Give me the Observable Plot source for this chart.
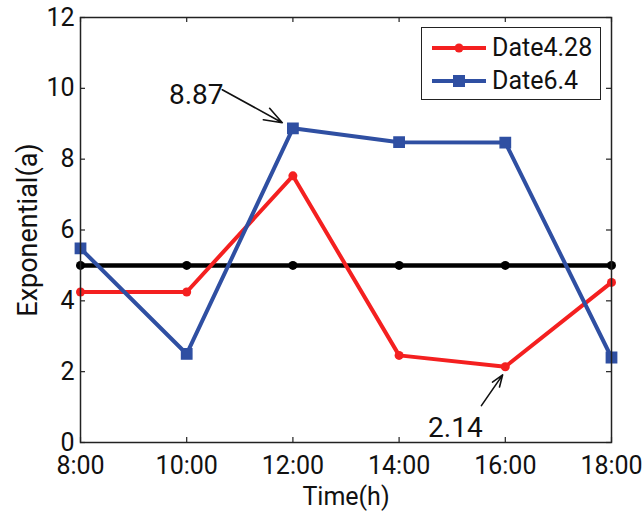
<!DOCTYPE html>
<html>
<head>
<meta charset="utf-8">
<script src="https://cdn.jsdelivr.net/npm/d3@7"></script>
<script src="https://cdn.jsdelivr.net/npm/@observablehq/plot@0.6"></script>
<style>
  html, body { margin: 0; padding: 0; background: #fff; }
  #wrap { position: relative; width: 642px; height: 511px; font-family: Roboto, "Liberation Sans", sans-serif; }
  #legend { position: absolute; left: 421px; top: 27px; width: 180px; height: 73px; border: 1.5px solid #222; background: #fff; box-sizing: border-box; }
  .row { position: absolute; left: 0; height: 30px; display: flex; align-items: center; }
  .row span { font-size: 25px; color: #111; margin-left: 6px; line-height: 30px; }
</style>
</head>
<body>
<div id="wrap"></div>
<script>
// ---- data ----
const hours = [8, 10, 12, 14, 16, 18];
const date428 = [4.25, 4.25, 7.53, 2.46, 2.14, 4.52];
const date64 = [5.48, 2.50, 8.87, 8.48, 8.47, 2.40];
const threshold = [5, 5, 5, 5, 5, 5];
const seriesNames = ["Date4.28", "Date6.4"];
const yTicks = [0, 2, 4, 6, 8, 10, 12];
const xTicks = [8, 10, 12, 14, 16, 18];
const annotText = ["8.87", "2.14"];
const annotTextX = [10.18, 15.06];
const annotTextY = [9.82, 0.42];
const arrowFromX = [10.67, 15.55];
const arrowFromY = [9.96, 1.04];
const arrowToX = [11.80, 15.95];
const arrowToY = [9.03, 1.91];

const RED = "#f42020";
const BLUE = "#2f4fa2";

const red = hours.map((h, i) => ({x: h, y: date428[i]}));
const blue = hours.map((h, i) => ({x: h, y: date64[i]}));
const black = hours.map((h, i) => ({x: h, y: threshold[i]}));
const annots = annotText.map((t, i) => ({t, tx: annotTextX[i], ty: annotTextY[i], x1: arrowFromX[i], y1: arrowFromY[i], x2: arrowToX[i], y2: arrowToY[i]}));

const W = 642, H = 511, mT = 17, mB = 69, mL = 80, mR = 31;
const frameH = H - mT - mB, frameW = W - mL - mR;

const chart = Plot.plot({
  width: W, height: H,
  marginTop: mT, marginBottom: mB, marginLeft: mL, marginRight: mR,
  style: {fontFamily: "Roboto, 'Liberation Sans', sans-serif", background: "#fff", color: "#111"},
  x: {domain: [8, 18]},
  y: {domain: [0, 12]},
  marks: [
    // inward ticks on all four sides
    Plot.tickX(xTicks, {x: d => d, insetTop: frameH - 5, stroke: "#222", strokeWidth: 1.2}),
    Plot.tickX(xTicks, {x: d => d, insetBottom: frameH - 5, stroke: "#222", strokeWidth: 1.2}),
    Plot.tickY(yTicks, {y: d => d, insetRight: frameW - 5, stroke: "#222", strokeWidth: 1.2}),
    Plot.tickY(yTicks, {y: d => d, insetLeft: frameW - 5, stroke: "#222", strokeWidth: 1.2}),
    Plot.axisX({ticks: xTicks, tickSize: 0, tickPadding: 14, tickFormat: d => `${d}:00`, fontSize: 25, label: null}),
    Plot.axisY({ticks: yTicks, tickSize: 0, tickPadding: 6, fontSize: 25, label: null}),
    Plot.text(["Time(h)"], {frameAnchor: "bottom", dy: 54, fontSize: 25, lineAnchor: "middle", textAnchor: "middle", fill: "#111"}),
    Plot.text(["Exponential(a)"], {frameAnchor: "left", dx: -52, rotate: -90, fontSize: 27, lineAnchor: "middle", textAnchor: "middle", fill: "#111"}),
    // series
    Plot.line(black, {x: "x", y: "y", stroke: "#000", strokeWidth: 4.5}),
    Plot.dot(black, {x: "x", y: "y", r: 4.5, fill: "#000"}),
    Plot.line(red, {x: "x", y: "y", stroke: RED, strokeWidth: 4}),
    Plot.dot(red, {x: "x", y: "y", r: 4.5, fill: RED}),
    Plot.line(blue, {x: "x", y: "y", stroke: BLUE, strokeWidth: 4}),
    Plot.dot(blue, {x: "x", y: "y", r: 5.8, symbol: "square", fill: BLUE, stroke: BLUE, strokeWidth: 1.5}),
    // annotations
    Plot.arrow(annots, {x1: "x1", y1: "y1", x2: "x2", y2: "y2", stroke: "#111", strokeWidth: 1.6, headLength: 18, headAngle: 40, bend: 0}),
    Plot.text(annots, {x: "tx", y: "ty", text: "t", fontSize: 28, lineAnchor: "middle", fill: "#111"}),
    Plot.frame({stroke: "#222", strokeWidth: 1.5})
  ]
});

const wrap = document.getElementById("wrap");
wrap.appendChild(chart);

// legend
const legend = document.createElement("div");
legend.id = "legend";
const colors = [RED, BLUE];
seriesNames.forEach((name, i) => {
  const row = document.createElement("div");
  row.className = "row";
  row.style.top = (i === 0 ? 5 : 38) + "px";
  row.style.left = "10px";
  const svg = d3.create("svg").attr("width", 54).attr("height", 30);
  svg.append("line").attr("x1", 0).attr("x2", 54).attr("y1", 15).attr("y2", 15).attr("stroke", colors[i]).attr("stroke-width", 4);
  if (i === 0) svg.append("circle").attr("cx", 27).attr("cy", 15).attr("r", 4.5).attr("fill", colors[i]);
  else svg.append("rect").attr("x", 21).attr("y", 9).attr("width", 12).attr("height", 12).attr("fill", colors[i]);
  row.appendChild(svg.node());
  const span = document.createElement("span");
  span.textContent = name;
  row.appendChild(span);
  legend.appendChild(row);
});
wrap.appendChild(legend);
</script>
</body>
</html>
